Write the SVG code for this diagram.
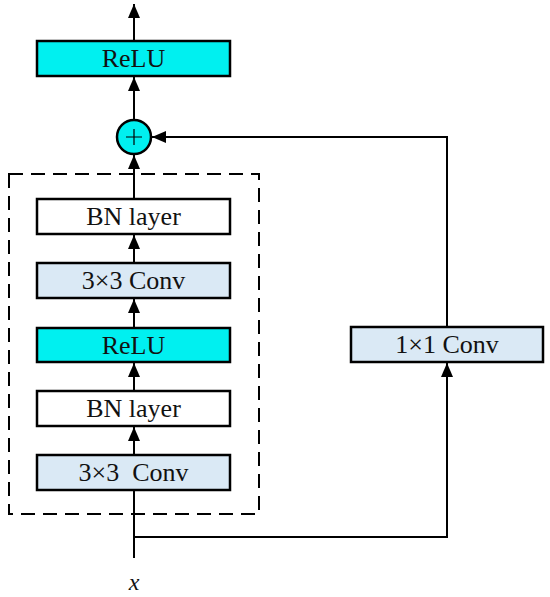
<svg xmlns="http://www.w3.org/2000/svg" width="550" height="597" viewBox="0 0 550 597">
<style>
.box{stroke:#000;stroke-width:2.5}
.cyan{fill:#00F0F0}
.blue{fill:#DAE9F5}
.white{fill:#fff}
.lbl{font-family:"Liberation Serif","Times New Roman",serif;font-size:26px;text-anchor:middle;fill:#111}
.ln{stroke:#000;stroke-width:2;fill:none}
</style>
<defs>
<marker id="ah" markerWidth="14" markerHeight="12" refX="14" refY="6" orient="auto" markerUnits="userSpaceOnUse" viewBox="0 0 14 12">
<path d="M0,0 L14,6 L0,12 Z" fill="#000"/>
</marker>
</defs>
<rect width="550" height="597" fill="#fff"/>
<g id="group">
<rect x="9" y="174" width="250" height="340" fill="none" stroke="#000" stroke-width="2" stroke-dasharray="14,8"/>
</g>
<g id="connectors">
<line class="ln" x1="134" y1="41" x2="134" y2="4" marker-end="url(#ah)"/>
<line class="ln" x1="134" y1="120" x2="134" y2="77" marker-end="url(#ah)"/>
<line class="ln" x1="134" y1="199" x2="134" y2="155" marker-end="url(#ah)"/>
<line class="ln" x1="134" y1="263" x2="134" y2="235" marker-end="url(#ah)"/>
<line class="ln" x1="134" y1="328" x2="134" y2="299" marker-end="url(#ah)"/>
<line class="ln" x1="134" y1="391" x2="134" y2="363" marker-end="url(#ah)"/>
<line class="ln" x1="134" y1="455" x2="134" y2="427" marker-end="url(#ah)"/>
<line class="ln" x1="134" y1="490" x2="134" y2="558"/>
<polyline class="ln" points="134,537 447,537 447,363" marker-end="url(#ah)"/>
<polyline class="ln" points="447,327 447,137 152,137" marker-end="url(#ah)"/>
</g>
<g id="relu_top">
<rect class="box cyan" x="37" y="41" width="193" height="35"/>
<text class="lbl" x="133.5" y="67">ReLU</text>
</g>
<g id="add">
<circle cx="134" cy="137" r="17" class="box cyan"/>
<path d="M126,137 H142 M134,129 V145" stroke="#000" stroke-width="1.2"/>
</g>
<g id="bn2">
<rect class="box white" x="37" y="199" width="193" height="35"/>
<text class="lbl" x="133.5" y="225">BN layer</text>
</g>
<g id="conv2">
<rect class="box blue" x="37" y="263" width="193" height="35"/>
<text class="lbl" x="133.5" y="289">3×3 Conv</text>
</g>
<g id="relu_mid">
<rect class="box cyan" x="37" y="328" width="193" height="34"/>
<text class="lbl" x="133.5" y="354">ReLU</text>
</g>
<g id="bn1">
<rect class="box white" x="37" y="391" width="193" height="35"/>
<text class="lbl" x="133.5" y="417">BN layer</text>
</g>
<g id="conv1">
<rect class="box blue" x="37" y="455" width="193" height="35"/>
<text class="lbl" x="133.5" y="481" xml:space="preserve">3×3  Conv</text>
</g>
<g id="conv1x1">
<rect class="box blue" x="351" y="327" width="192" height="35"/>
<text class="lbl" x="447" y="353">1×1 Conv</text>
</g>
<g id="input">
<text class="lbl" x="134" y="590" font-style="italic" style="font-size:24px">x</text>
</g>
</svg>
